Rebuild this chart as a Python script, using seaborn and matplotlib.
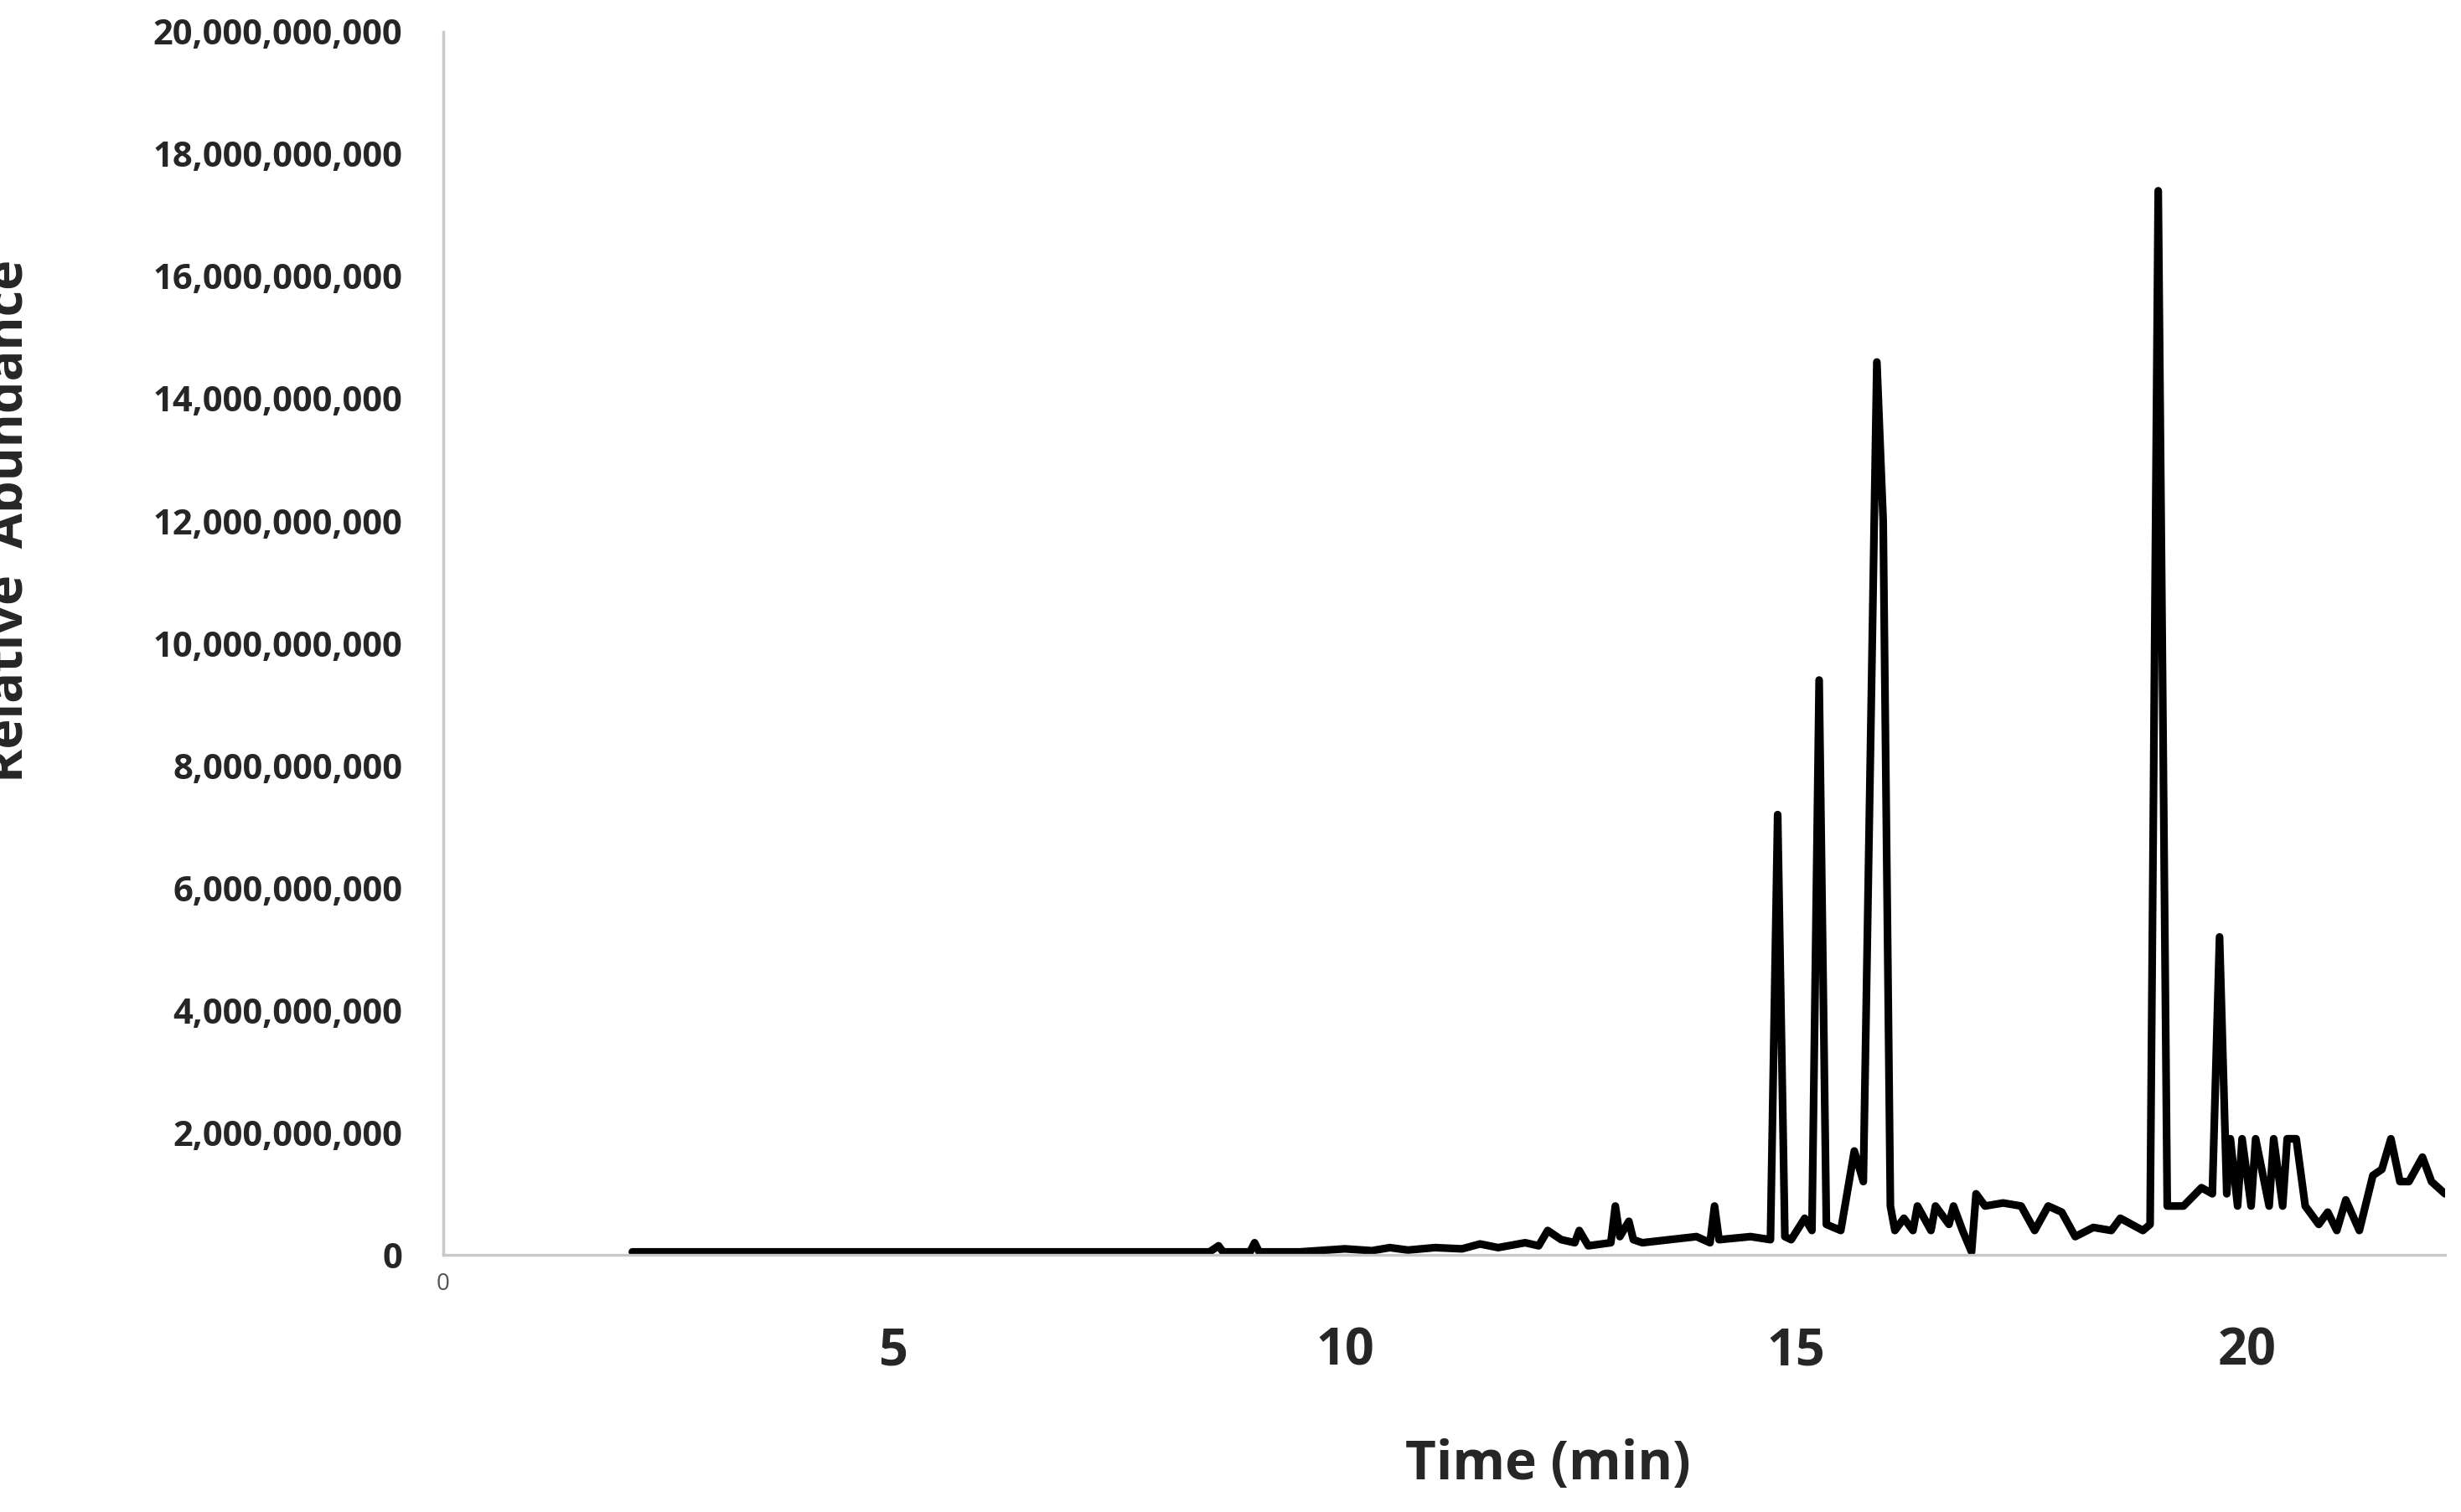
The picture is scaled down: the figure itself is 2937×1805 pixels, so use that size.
import matplotlib
matplotlib.use("Agg")
import matplotlib.pyplot as plt
import matplotlib.ticker as mticker
import seaborn as sns
import pandas as pd

# chromatogram trace (time in min, abundance)
time_min = [2.1, 8.5, 8.6, 8.65, 8.7, 8.95, 9.0, 9.05, 9.5, 9.8, 10.0, 10.3, 10.5, 10.7,
            11.0, 11.3, 11.5, 11.7, 12.0, 12.15, 12.25, 12.4, 12.55, 12.6, 12.7, 12.95,
            13.0, 13.05, 13.15, 13.2, 13.3, 13.6, 13.9, 14.05, 14.1, 14.15, 14.5, 14.72,
            14.8, 14.88, 14.95, 15.1, 15.18, 15.26, 15.34, 15.5, 15.65, 15.75, 15.9,
            15.97, 16.05, 16.1, 16.2, 16.3, 16.35, 16.5, 16.55, 16.7, 16.75, 16.85, 16.95,
            17.0, 17.1, 17.3, 17.5, 17.65, 17.8, 17.95, 18.1, 18.3, 18.5, 18.6, 18.85,
            18.93, 19.02, 19.12, 19.3, 19.5, 19.62, 19.7, 19.78, 19.82, 19.9, 19.95, 20.05,
            20.1, 20.25, 20.3, 20.4, 20.45, 20.55, 20.65, 20.8, 20.9, 21.0, 21.1, 21.25,
            21.4, 21.5, 21.6, 21.7, 21.8, 21.95, 22.05, 22.2]
abundance_bn = [0.05, 0.05, 0.15, 0.05, 0.05, 0.05, 0.2, 0.05, 0.05, 0.08, 0.1, 0.07, 0.12, 0.08,
                0.12, 0.1, 0.18, 0.12, 0.2, 0.15, 0.4, 0.25, 0.2, 0.4, 0.15, 0.2,
                0.8, 0.3, 0.55, 0.25, 0.2, 0.25, 0.3, 0.2, 0.8, 0.25, 0.3, 0.25,
                7.2, 0.3, 0.25, 0.6, 0.4, 9.4, 0.5, 0.4, 1.7, 1.2, 14.6,
                12.0, 0.8, 0.4, 0.6, 0.4, 0.8, 0.4, 0.8, 0.5, 0.8, 0.4, 0.05,
                1.0, 0.8, 0.85, 0.8, 0.4, 0.8, 0.7, 0.3, 0.45, 0.4, 0.6, 0.4,
                0.5, 17.4, 0.8, 0.8, 1.1, 1.0, 5.2, 1.0, 1.9, 0.8, 1.9, 0.8,
                1.9, 0.8, 1.9, 0.8, 1.9, 1.9, 0.8, 0.5, 0.7, 0.4, 0.9, 0.4,
                1.3, 1.4, 1.9, 1.2, 1.2, 1.6, 1.2, 1.0]

x_tick_vals = [0, 5, 10, 15, 20]
y_ticks = list(range(0, 20000000001, 2000000000))

df = pd.DataFrame({"time": time_min, "abundance": [v * 1e9 for v in abundance_bn]})

sns.set_style("white")
plt.rcParams["font.family"] = ["Open Sans", "DejaVu Sans"]

fig = plt.figure(figsize=(14.685, 9.025), dpi=200)
ax = fig.add_axes([0.180, 0.170, 0.8135, 0.809])

sns.lineplot(data=df, x="time", y="abundance", color="black", linewidth=3.3, ax=ax)

ax.set_xlim(0, 22.2)
ax.set_ylim(0, 20000000000)
ax.set_yticks(y_ticks)
ax.yaxis.set_major_formatter(mticker.FuncFormatter(lambda v, p: f"{int(v):,}"))
for lab in ax.get_yticklabels():
    lab.set_fontsize(15)
    lab.set_fontweight("bold")
ax.tick_params(axis="y", pad=14)
ax.set_xticks(x_tick_vals)
ax.set_xticklabels(["0", "", "", "", ""], fontsize=10, color="#555555")
ax.tick_params(axis="x", length=4, color="#cccccc")

for s in ["top", "right"]:
    ax.spines[s].set_visible(False)
for s in ["left", "bottom"]:
    ax.spines[s].set_color("#c8c8c8")
    ax.spines[s].set_linewidth(1.2)

# large bold time labels below the axis
trans = matplotlib.transforms.blended_transform_factory(ax.transData, fig.transFigure)
for t in x_tick_vals[1:]:
    ax.text(t, 0.106, str(t), transform=trans, ha="center", va="center",
            fontsize=22, fontweight="bold")

ax.set_xlabel("")
ax.set_ylabel("Relative  Abundance", fontsize=22, fontweight="bold")
ax.yaxis.set_label_coords(-0.204, 0.6)
fig.text(0.629, 0.031, "Time (min)", ha="center", va="center", fontsize=23, fontweight="bold")

fig.savefig("out.png", dpi=200, facecolor="white")
